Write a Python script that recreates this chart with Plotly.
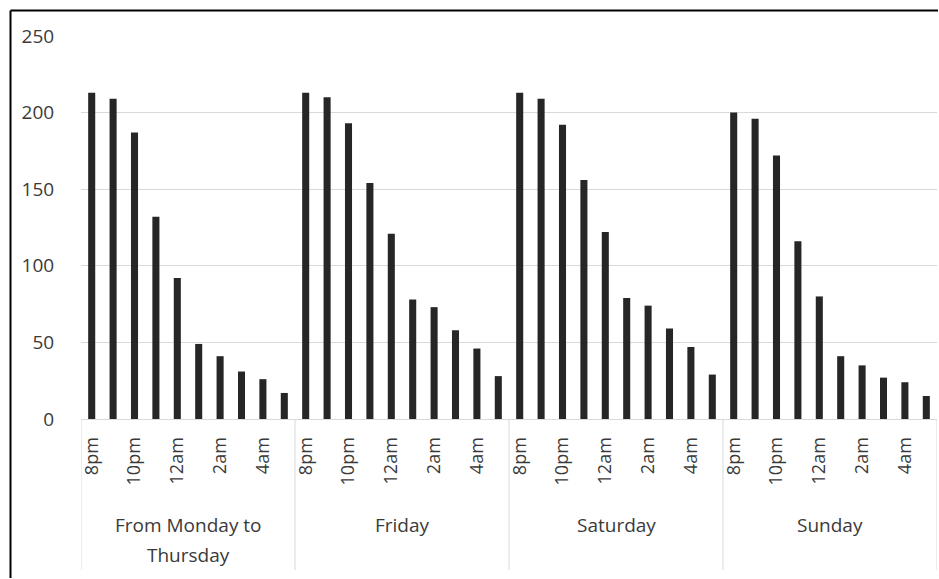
import plotly.graph_objects as go

# Hourly counts, 8pm through 5am, for each period of the week
groups = ["From Monday to<br>Thursday", "Friday", "Saturday", "Sunday"]
hours = ["8pm", "9pm", "10pm", "11pm", "12am", "1am", "2am", "3am", "4am", "5am"]
mon_thu = [213, 209, 187, 132, 92, 49, 41, 31, 26, 17]
friday = [213, 210, 193, 154, 121, 78, 73, 58, 46, 28]
saturday = [213, 209, 192, 156, 122, 79, 74, 59, 47, 29]
sunday = [200, 196, 172, 116, 80, 41, 35, 27, 24, 15]
y_ticks = [0, 50, 100, 150, 200, 250]

series = [mon_thu, friday, saturday, sunday]
n = len(hours)

x_pos, y_val = [], []
for g, vals in enumerate(series):
    for h, v in enumerate(vals):
        x_pos.append(g * n + h)
        y_val.append(v)

# every other hour gets a label
tick_vals = [g * n + h for g in range(len(groups)) for h in range(0, n, 2)]
tick_text = [hours[h] for g in range(len(groups)) for h in range(0, n, 2)]

FONT = "Open Sans"
TXT = "#3a3a3a"
GRID = "#d9d9d9"

fig = go.Figure(go.Bar(
    x=x_pos, y=y_val, width=0.33,
    marker=dict(color="#262626", line=dict(width=0)),
    hoverinfo="x+y",
))

L, R, T, B = 81, 2, 36, 160
W, H = 939, 579
plot_h = H - T - B
plot_w = W - L - R


def py(pix):
    # pixel row -> paper y
    return (H - B - pix) / plot_h


def px(pix):
    return (pix - L) / plot_w


shapes = []
# group dividers below the axis
for g in range(len(groups) + 1):
    xb = g * n - 0.5
    shapes.append(dict(type="line", xref="x", yref="paper", x0=xb, x1=xb,
                       y0=0, y1=py(570), line=dict(color=GRID, width=1)))
# outer frame: left and top edges as one open path
frame_path = "M {x0},{y0} L {x0},{y1} M {x0},{y1} L {x1},{y1}".format(
    x0=px(10.5), y0=py(578), y1=py(10.5), x1=px(938))
shapes.append(dict(type="path", xref="paper", yref="paper", path=frame_path,
                   line=dict(color="black", width=2)))

# group names, one annotation per text line so the line spacing can be set
LINE_GAP = 30
annotations = []
for g, name in enumerate(groups):
    for k, line in enumerate(name.split("<br>")):
        annotations.append(dict(
            x=g * n + (n - 1) / 2, xref="x", y=py(525 + k * LINE_GAP), yref="paper",
            text=line, showarrow=False, xanchor="center", yanchor="middle",
            font=dict(family=FONT, size=19, color=TXT),
        ))

fig.update_layout(
    width=W, height=H,
    margin=dict(l=L, r=R, t=T, b=B, pad=0),
    paper_bgcolor="white", plot_bgcolor="white",
    showlegend=False,
    shapes=shapes, annotations=annotations,
    font=dict(family=FONT, size=19, color=TXT),
    xaxis=dict(
        range=[-0.5, len(groups) * n - 0.5],
        tickvals=tick_vals, ticktext=tick_text, tickangle=-90,
        ticks="outside", ticklen=10, tickcolor="rgba(0,0,0,0)",
        showline=True, linecolor=GRID, linewidth=1,
        showgrid=False, zeroline=False,
        tickfont=dict(family=FONT, size=18, color=TXT),
    ),
    yaxis=dict(
        range=[0, 250], tickvals=y_ticks,
        ticks="outside", ticklen=22, tickcolor="rgba(0,0,0,0)",
        showgrid=True, gridcolor=GRID, gridwidth=1,
        zeroline=False, showline=False,
        tickfont=dict(family=FONT, size=19, color=TXT),
    ),
)

fig.write_html("out.html")
